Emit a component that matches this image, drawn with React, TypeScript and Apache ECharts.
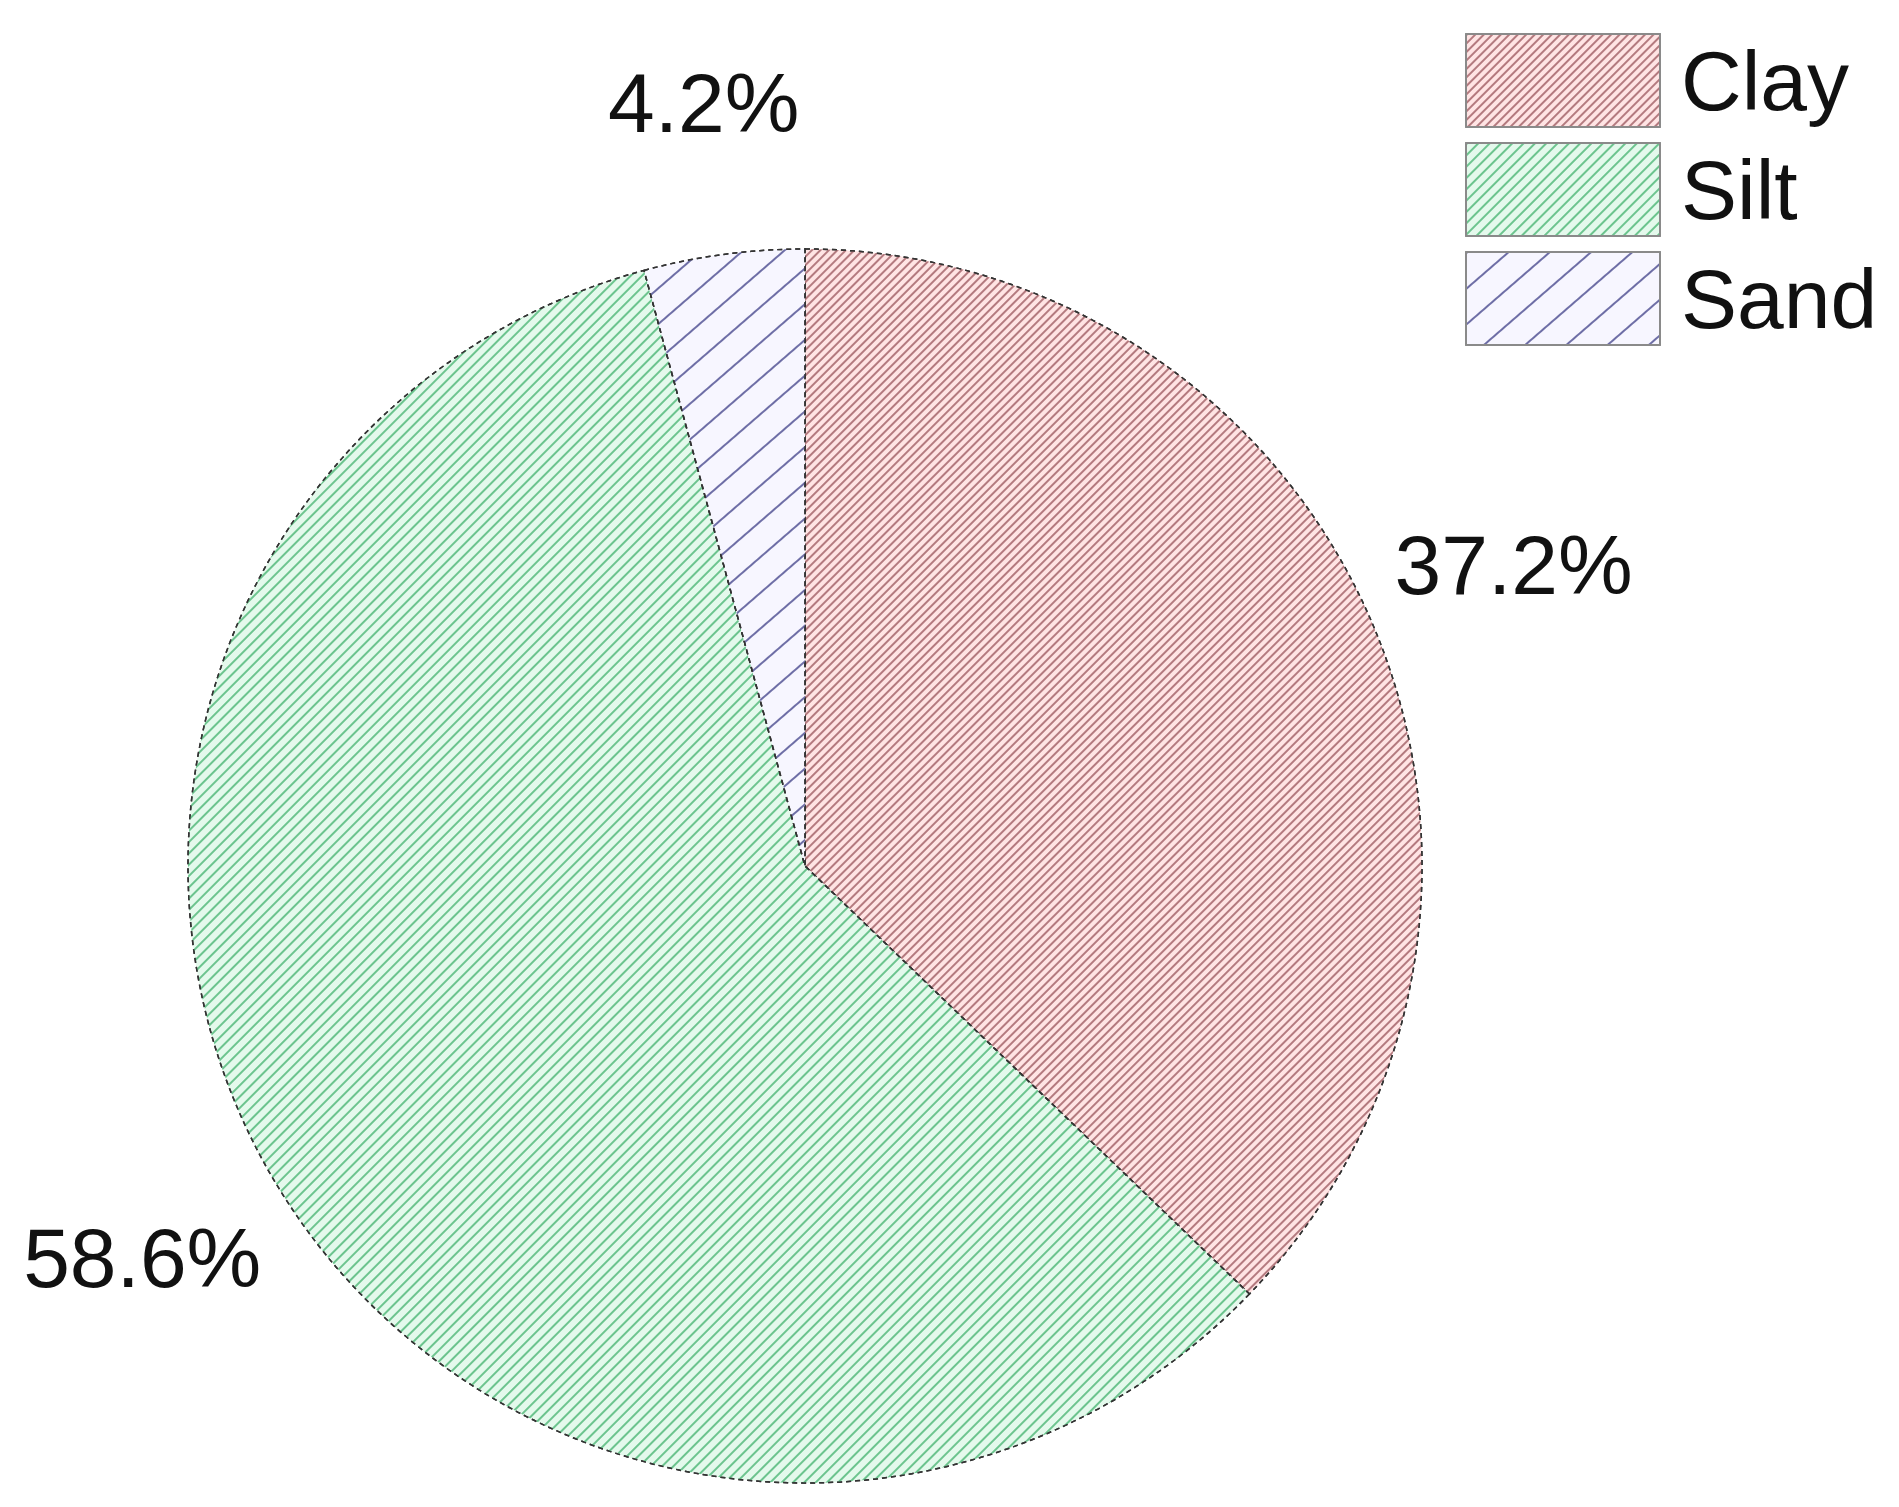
import React, { useEffect, useRef } from "react";
import * as echarts from "echarts";

const categories = ["Clay", "Silt", "Sand"];
const values = [37.2, 58.6, 4.2];
const fillColors = ["#ffe4e4", "#e4f9ec", "#f7f6ff"];
const lineColors = ["#b47a7f", "#6cc48e", "#6e6ea6"];
const lineGaps = [3.2, 5.5, 25];
const lineRot = [-Math.PI / 4, -Math.PI / 4, -Math.PI / 4.4];

export default function App() {
  const ref = useRef<HTMLDivElement>(null);
  useEffect(() => {
    document.body.style.margin = "0";
    document.body.style.overflow = "hidden";
    const chart = echarts.init(ref.current!, null, { renderer: "svg" });
    const font = "'Liberation Sans', Arial, sans-serif";
    chart.setOption({
      animation: false,
      backgroundColor: "#ffffff",
      legend: {
        orient: "vertical",
        left: 1465,
        top: 33,
        padding: 0,
        itemWidth: 194,
        itemHeight: 93,
        itemGap: 14,
        icon: "rect",
        itemStyle: { borderColor: "#8a8a8a", borderWidth: 2, borderType: "solid" },
        textStyle: {
          fontSize: 84,
          fontFamily: font,
          color: "#111",
          padding: [0, 0, 0, 16],
        },
        data: categories,
      },
      series: [
        {
          type: "pie",
          center: [805, 866],
          radius: 617,
          startAngle: 90,
          clockwise: true,
          avoidLabelOverlap: false,
          itemStyle: {
            borderColor: "#333",
            borderWidth: 1.5,
            borderType: [5, 4],
          },
          label: {
            show: true,
            position: "outside",
            distanceToLabelLine: 0,
            fontSize: 84,
            fontFamily: font,
            color: "#111",
            formatter: (p: any) => `${Number(p.value).toFixed(1)}%`,
          },
          labelLine: { show: false, length: 153, length2: 0 },
          labelLayout: { align: "center", verticalAlign: "middle" },
          emphasis: { disabled: true },
          data: categories.map((name, i) => ({
            name,
            value: values[i],
            itemStyle: {
              color: fillColors[i],
              decal: {
                symbol: "rect",
                symbolSize: 1,
                color: lineColors[i],
                dashArrayX: [1, 0],
                dashArrayY: [1.5, lineGaps[i]],
                rotation: lineRot[i],
              },
            },
          })),
        },
      ],
    });
    return () => chart.dispose();
  }, []);
  return <div ref={ref} style={{ width: 1899, height: 1507 }} />;
}
